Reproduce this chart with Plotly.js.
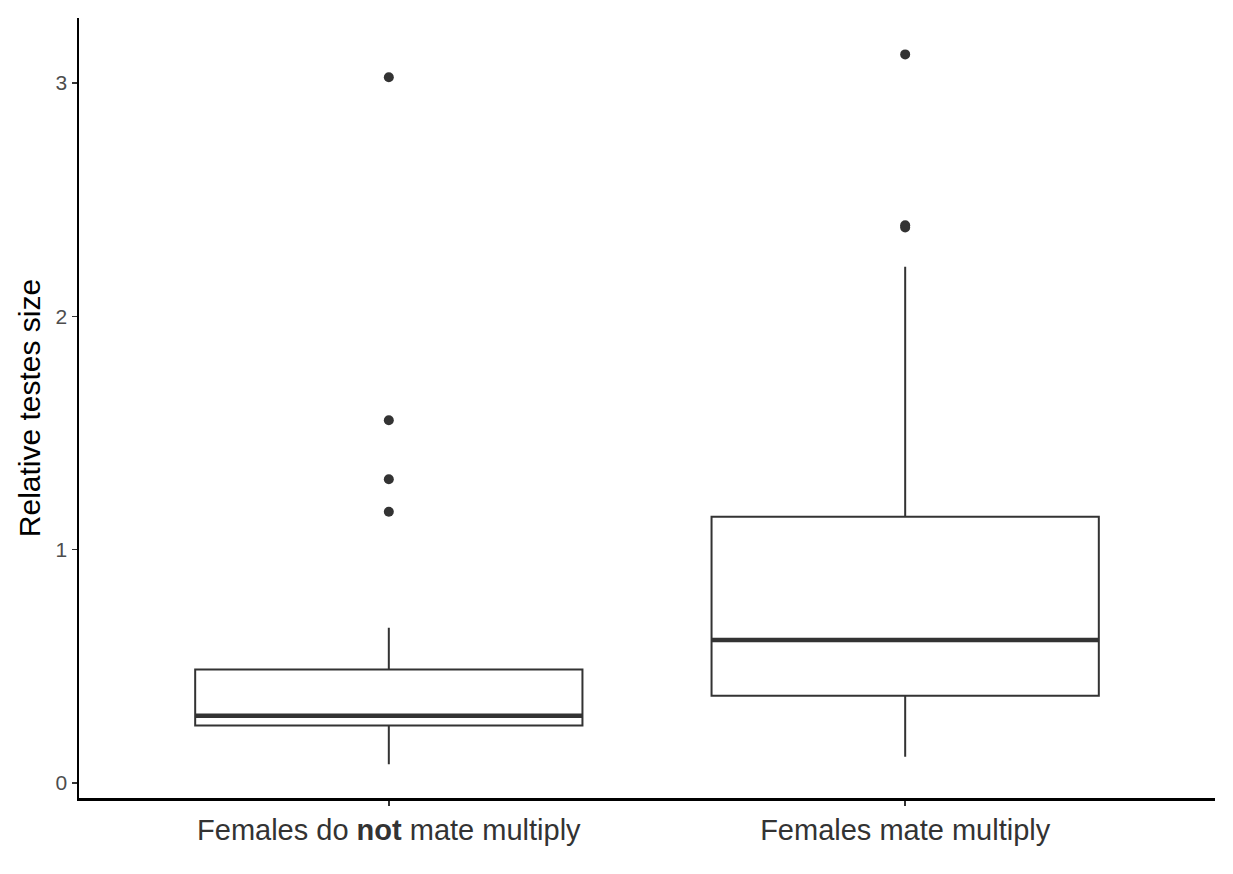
<!DOCTYPE html>
<html>
<head>
<meta charset="utf-8">
<script src="https://cdn.plot.ly/plotly-3.0.1.min.js"></script>
<style>html,body{margin:0;padding:0;background:#fff;}#chart{width:1233px;height:874px;}</style>
</head>
<body>
<div id="chart"></div>
<script>
// Data
const categories = ["Females do <b>not</b> mate multiply", "Females mate multiply"];
const groupPos = [0, 1];
const q1Vals = [0.247, 0.374];
const medianVals = [0.288, 0.613];
const q3Vals = [0.487, 1.141];
const lowerFence = [0.081, 0.113];
const upperFence = [0.666, 2.213];
const outliersGroup1 = [1.163, 1.302, 1.555, 3.025];
const outliersGroup2 = [2.381, 2.391, 3.123];
const yTicks = [0, 1, 2, 3];

const boxWidth = 0.75;
const ink = "#333333";

const boxTrace = {
  type: "box",
  x: groupPos,
  q1: q1Vals,
  median: medianVals,
  q3: q3Vals,
  lowerfence: lowerFence,
  upperfence: upperFence,
  width: boxWidth,
  whiskerwidth: 0,
  fillcolor: "rgba(255,255,255,0)",
  line: {color: ink, width: 2},
  boxpoints: false,
  hoverinfo: "skip",
  showlegend: false
};

// thicker median lines
const medX = [], medY = [];
groupPos.forEach((p, i) => {
  medX.push(p - boxWidth / 2, p + boxWidth / 2, null);
  medY.push(medianVals[i], medianVals[i], null);
});
const medianTrace = {
  type: "scatter", mode: "lines", x: medX, y: medY,
  line: {color: ink, width: 4.5}, hoverinfo: "skip", showlegend: false
};

const outX = outliersGroup1.map(() => groupPos[0]).concat(outliersGroup2.map(() => groupPos[1]));
const outY = outliersGroup1.concat(outliersGroup2);
const outlierTrace = {
  type: "scatter", mode: "markers", x: outX, y: outY,
  marker: {color: ink, size: 10}, hoverinfo: "skip", showlegend: false
};

const layout = {
  width: 1233, height: 874,
  margin: {l: 79, r: 18, t: 18, b: 76},
  paper_bgcolor: "#ffffff", plot_bgcolor: "#ffffff",
  font: {family: "Liberation Sans, Arial, sans-serif", color: "#000"},
  showlegend: false,
  xaxis: {
    range: [-0.6, 1.6],
    tickvals: groupPos,
    ticktext: categories,
    showgrid: false, zeroline: false,
    showline: true, linecolor: "#000", linewidth: 2.5,
    ticks: "outside", ticklen: 5, tickwidth: 1.5, tickcolor: "#333",
    tickfont: {size: 29, color: "#333"}
  },
  yaxis: {
    range: [-0.064, 3.279],
    tickvals: yTicks,
    ticktext: yTicks.map(String),
    showgrid: false, zeroline: false,
    showline: true, linecolor: "#000", linewidth: 2.5,
    ticks: "outside", ticklen: 5, tickwidth: 1.5, tickcolor: "#333",
    tickfont: {size: 21, color: "#4d4d4d"},
    title: {text: "Relative testes size", font: {size: 30, color: "#000"}, standoff: 6}
  }
};

Plotly.newPlot("chart", [boxTrace, medianTrace, outlierTrace], layout, {displayModeBar: false, staticPlot: true});
</script>
</body>
</html>
